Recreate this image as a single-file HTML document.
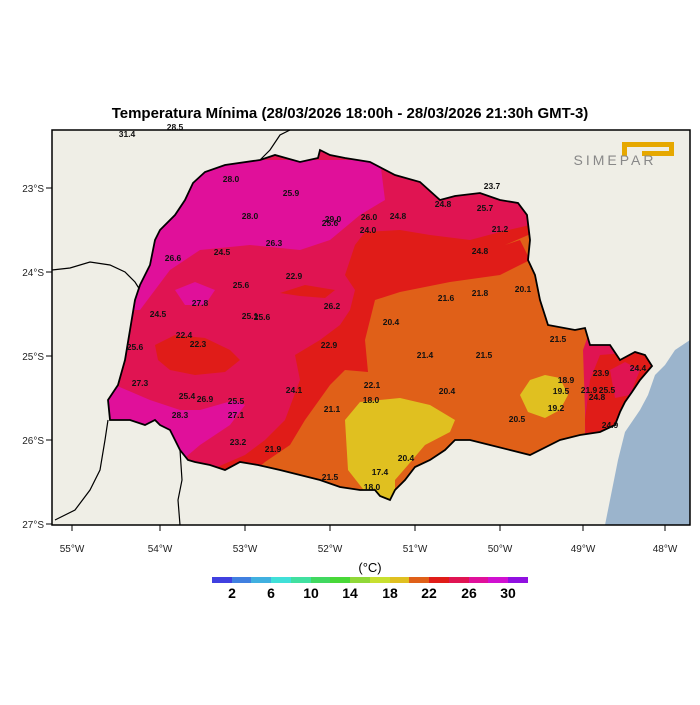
<!DOCTYPE html>
<html><head><meta charset="utf-8"><style>
body{margin:0;background:#fff;width:700px;height:700px;overflow:hidden}
text{font-family:"Liberation Sans",sans-serif}
</style></head><body>
<svg width="700" height="700" viewBox="0 0 700 700" xmlns="http://www.w3.org/2000/svg">
<defs>
<clipPath id="st"><path id="stp" d="M193,183 L205,172 225,165 260,160 275,155 300,162 318,158 320,150 330,155 345,158 370,162 395,175 420,182 440,200 455,196 480,193 500,200 518,203 527,215 530,240 528,260 535,275 540,300 548,325 575,330 585,328 590,345 610,345 620,360 635,352 645,355 652,366 640,380 632,392 625,402 620,412 615,425 600,432 580,435 560,440 530,455 510,450 490,445 470,440 455,440 445,450 430,460 415,467 405,480 395,490 390,500 380,496 375,490 360,490 340,487 320,480 300,475 280,470 258,465 240,462 225,470 210,465 195,462 188,460 180,450 175,440 170,430 160,425 155,420 145,425 130,420 110,420 108,400 118,385 125,360 130,330 135,300 140,285 150,265 155,240 160,230 175,215 185,200 Z"/></clipPath>
</defs>
<rect x="52" y="130" width="638" height="395" fill="#efeee6"/>
<path d="M605,525 L612,490 618,460 625,432 640,410 648,395 655,375 665,365 675,350 690,340 L690,525 Z" fill="#9bb4cc"/>
<g fill="none" stroke="#000" stroke-width="1.2">
<path d="M52,270 L70,268 90,262 110,265 125,272 135,282 140,290"/>
<path d="M108,420 L105,440 100,470 90,490 75,510 55,520"/>
<path d="M180,450 L182,480 178,500 180,525"/>
<path d="M260,160 L270,150 280,135 290,130"/>
</g>
<g clip-path="url(#st)">
<rect x="100" y="140" width="560" height="370" fill="#e01452"/>
<path d="M180,160 L380,160 385,200 360,215 330,240 300,250 250,245 200,250 170,270 140,310 100,310 100,160 Z" fill="#e0109a"/>
<path d="M175,290 L195,282 215,290 205,305 185,305 Z" fill="#e0109a"/>
<path d="M100,380 L115,385 150,400 180,410 200,410 235,400 245,405 230,425 200,445 180,462 100,470 Z" fill="#e0109a"/>
<path d="M155,345 L175,335 205,338 230,350 240,360 225,372 195,375 170,370 158,360 Z" fill="#e01c18"/>
<path d="M355,245 L365,232 400,230 430,235 470,240 500,232 530,225 545,240 545,520 200,520 215,468 245,455 265,440 285,420 300,380 295,355 320,340 340,325 350,310 355,290 345,275 Z" fill="#e01c18"/>
<path d="M280,293 L305,285 335,290 325,298 300,296 Z" fill="#e01c18"/>
<path d="M590,520 L700,520 700,340 640,352 600,355 590,380 585,420 Z" fill="#e01c18"/>
<path d="M610,370 L625,362 640,370 630,395 615,398 Z" fill="#e01452"/>
<path d="M375,300 L400,292 450,282 500,275 530,260 520,240 505,245 540,230 560,300 590,330 583,350 585,410 585,470 270,500 245,480 265,462 290,445 305,420 330,385 345,370 368,372 365,340 Z" fill="#e06018"/>
<path d="M345,420 L360,402 400,398 430,405 455,420 450,432 425,445 408,465 395,480 395,500 370,498 348,470 Z" fill="#e0c020"/>
<path d="M520,395 L530,380 545,375 560,378 568,395 560,410 545,418 528,412 Z" fill="#e0c020"/>
</g>
<use href="#stp" fill="none" stroke="#000" stroke-width="1.8"/>
<rect x="52" y="130" width="638" height="395" fill="none" stroke="#000" stroke-width="1.5"/>
<g font-size="8.5" font-weight="bold" fill="#111" text-anchor="middle">
<text x="231" y="182">28.0</text><text x="291" y="196">25.9</text><text x="250" y="219">28.0</text><text x="333" y="222">29.0</text><text x="330" y="226">25.6</text>
<text x="369" y="220">26.0</text><text x="398" y="219">24.8</text><text x="443" y="207">24.8</text><text x="485" y="211">25.7</text><text x="492" y="189">23.7</text>
<text x="368" y="233">24.0</text><text x="274" y="246">26.3</text><text x="222" y="255">24.5</text><text x="173" y="261">26.6</text><text x="500" y="232">21.2</text>
<text x="480" y="254">24.8</text><text x="294" y="279">22.9</text><text x="241" y="288">25.6</text><text x="523" y="292">20.1</text><text x="480" y="296">21.8</text>
<text x="446" y="301">21.6</text><text x="200" y="306">27.8</text><text x="332" y="309">26.2</text><text x="158" y="317">24.5</text><text x="250" y="319">25.1</text>
<text x="262" y="320">25.6</text><text x="391" y="325">20.4</text><text x="184" y="338">22.4</text><text x="198" y="347">22.3</text><text x="135" y="350">25.6</text>
<text x="329" y="348">22.9</text><text x="558" y="342">21.5</text><text x="425" y="358">21.4</text><text x="484" y="358">21.5</text><text x="140" y="386">27.3</text>
<text x="372" y="388">22.1</text><text x="601" y="376">23.9</text><text x="638" y="371">24.4</text><text x="566" y="383">18.9</text><text x="294" y="393">24.1</text>
<text x="187" y="399">25.4</text><text x="205" y="402">26.9</text><text x="447" y="394">20.4</text><text x="561" y="394">19.5</text><text x="589" y="393">21.9</text>
<text x="607" y="393">25.5</text><text x="597" y="400">24.8</text><text x="236" y="404">25.5</text><text x="371" y="403">18.0</text><text x="332" y="412">21.1</text>
<text x="556" y="411">19.2</text><text x="180" y="418">28.3</text><text x="236" y="418">27.1</text><text x="517" y="422">20.5</text><text x="610" y="428">24.9</text>
<text x="238" y="445">23.2</text><text x="273" y="452">21.9</text><text x="406" y="461">20.4</text><text x="380" y="475">17.4</text><text x="330" y="480">21.5</text>
<text x="372" y="490">18.0</text><text x="127" y="137">31.4</text><text x="175" y="130">28.5</text>
</g>
<text x="350" y="118" font-size="15" font-weight="bold" text-anchor="middle">Temperatura Mínima (28/03/2026 18:00h - 28/03/2026 21:30h GMT-3)</text>
<g fill="#e6a800"><rect x="622" y="142" width="52" height="5"/><rect x="622" y="142" width="5" height="14"/><rect x="669" y="142" width="5" height="14"/><rect x="642" y="151" width="32" height="5"/></g>
<text x="615" y="165" font-size="14" fill="#888" text-anchor="middle" letter-spacing="3">SIMEPAR</text>
<g stroke="#000" stroke-width="1"><path d="M72,525v6M160,525v6M245,525v6M330,525v6M415,525v6M500,525v6M583,525v6M665,525v6M46,188h6M46,272h6M46,356h6M46,440h6M46,524h6"/></g>
<g font-size="10" fill="#222" text-anchor="middle"><text x="72" y="552">55°W</text><text x="160" y="552">54°W</text><text x="245" y="552">53°W</text><text x="330" y="552">52°W</text><text x="415" y="552">51°W</text><text x="500" y="552">50°W</text><text x="583" y="552">49°W</text><text x="665" y="552">48°W</text></g>
<g font-size="10" fill="#222" text-anchor="end"><text x="44" y="192">23°S</text><text x="44" y="276">24°S</text><text x="44" y="360">25°S</text><text x="44" y="444">26°S</text><text x="44" y="528">27°S</text></g>
<text x="370" y="572" font-size="13" text-anchor="middle">(°C)</text>
<g>
<rect x="212" y="577" width="20" height="6" fill="#4040e0"/><rect x="232" y="577" width="20" height="6" fill="#4080e0"/><rect x="251" y="577" width="20" height="6" fill="#40b0e0"/><rect x="271" y="577" width="20" height="6" fill="#40e0d8"/>
<rect x="291" y="577" width="20" height="6" fill="#40e0a0"/><rect x="311" y="577" width="20" height="6" fill="#40d860"/><rect x="330" y="577" width="20" height="6" fill="#48d838"/><rect x="350" y="577" width="20" height="6" fill="#90d838"/>
<rect x="370" y="577" width="20" height="6" fill="#c8e030"/><rect x="390" y="577" width="20" height="6" fill="#e0c020"/><rect x="409" y="577" width="20" height="6" fill="#e06018"/><rect x="429" y="577" width="20" height="6" fill="#e01c18"/>
<rect x="449" y="577" width="20" height="6" fill="#e01452"/><rect x="469" y="577" width="20" height="6" fill="#e0109a"/><rect x="488" y="577" width="20" height="6" fill="#d010d0"/><rect x="508" y="577" width="20" height="6" fill="#9010e0"/>
</g>
<g font-size="14" font-weight="bold" text-anchor="middle"><text x="232" y="598">2</text><text x="271" y="598">6</text><text x="311" y="598">10</text><text x="350" y="598">14</text><text x="390" y="598">18</text><text x="429" y="598">22</text><text x="469" y="598">26</text><text x="508" y="598">30</text></g>
</svg>
</body></html>
